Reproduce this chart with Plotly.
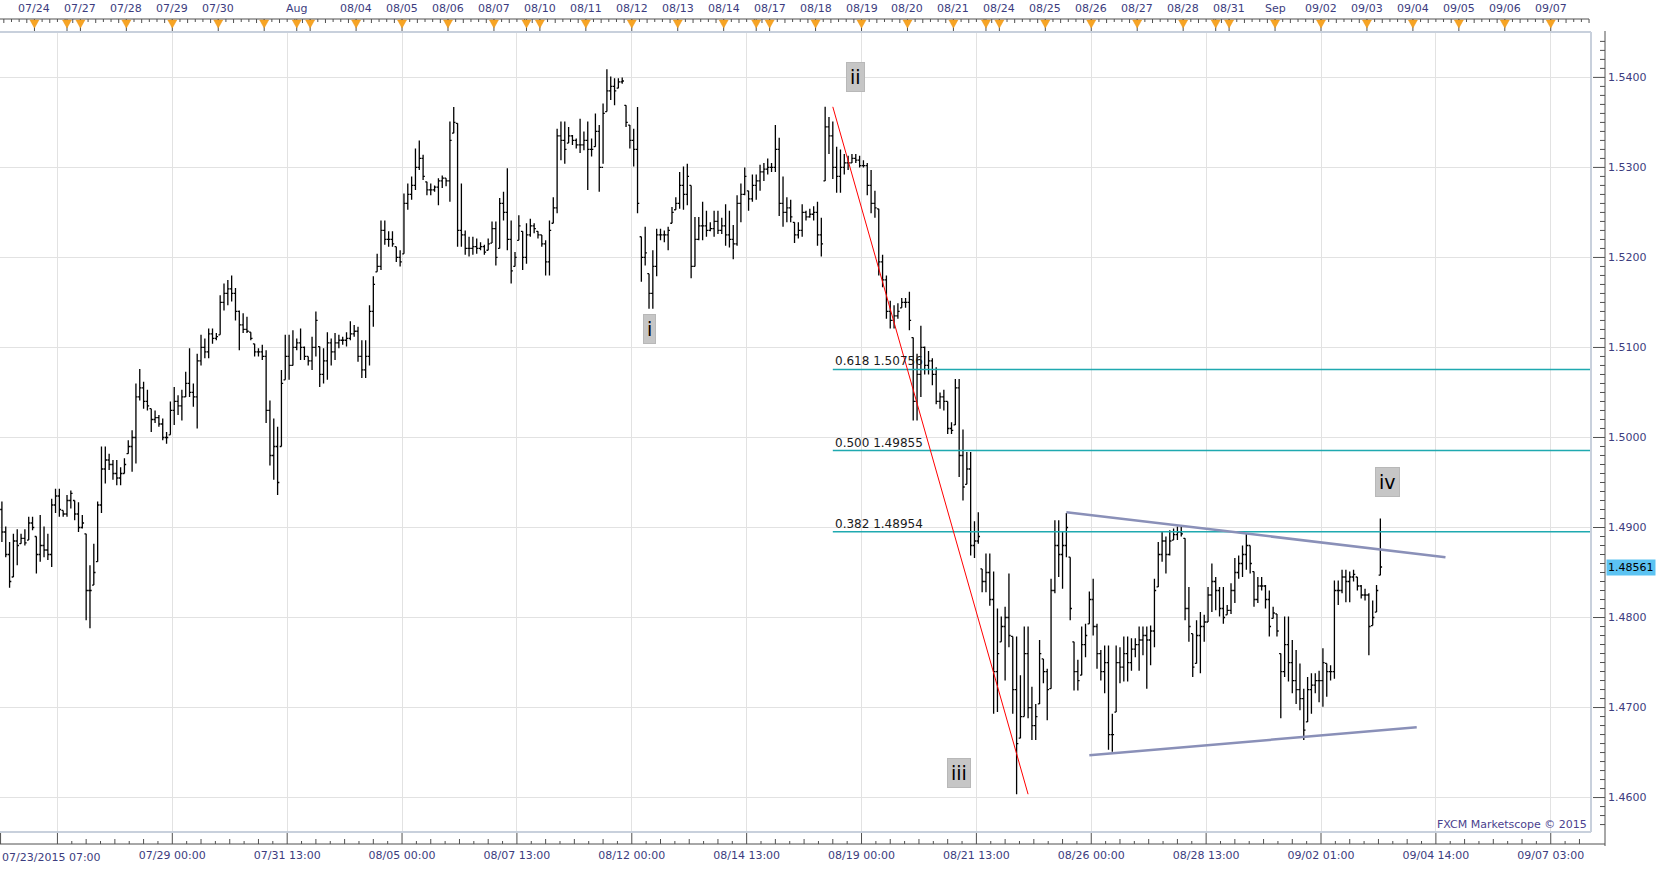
import plotly.graph_objects as go

# ------------------------------------------------------------------ data
# 2-hour OHLC bars; bar_hours = trading-hour index (0 = 07/23/2015 07:00)
bar_hours = list(range(0, 722, 2))

opens = [
    1.4920, 1.4895, 1.4870, 1.4845, 1.4885, 1.4882, 1.4888, 1.4886, 1.4905, 1.4890,
    1.4870, 1.4880, 1.4875, 1.4870, 1.4925, 1.4935, 1.4919, 1.4915, 1.4930, 1.4930,
    1.4915, 1.4900, 1.4893, 1.4830, 1.4836, 1.4862, 1.4925, 1.4965, 1.4975, 1.4970,
    1.4960, 1.4955, 1.4960, 1.4982, 1.4990, 1.5000, 1.5045, 1.5055, 1.5040, 1.5032,
    1.5020, 1.5022, 1.5015, 1.5000, 1.5003, 1.5030, 1.5040, 1.5035, 1.5045, 1.5060,
    1.5050, 1.5045, 1.5085, 1.5100, 1.5095, 1.5115, 1.5110, 1.5114, 1.5150, 1.5160,
    1.5165, 1.5160, 1.5140, 1.5125, 1.5120, 1.5117, 1.5104, 1.5095, 1.5095, 1.5090,
    1.5030, 1.4980, 1.4990, 1.4990, 1.5064, 1.5090, 1.5080, 1.5100, 1.5105, 1.5100,
    1.5090, 1.5085, 1.5100, 1.5101, 1.5070, 1.5085, 1.5105, 1.5095, 1.5105, 1.5108,
    1.5108, 1.5110, 1.5115, 1.5118, 1.5090, 1.5075, 1.5090, 1.5140, 1.5184, 1.5190,
    1.5230, 1.5220, 1.5220, 1.5212, 1.5200, 1.5204, 1.5260, 1.5270, 1.5280, 1.5300,
    1.5310, 1.5284, 1.5275, 1.5275, 1.5278, 1.5285, 1.5288, 1.5285, 1.5338, 1.5349,
    1.5230, 1.5225, 1.5210, 1.5210, 1.5212, 1.5210, 1.5212, 1.5208, 1.5216, 1.5232,
    1.5210, 1.5260, 1.5250, 1.5220, 1.5190, 1.5219, 1.5229, 1.5200, 1.5225, 1.5235,
    1.5229, 1.5225, 1.5215, 1.5195, 1.5238, 1.5255, 1.5335, 1.5330, 1.5327, 1.5335,
    1.5330, 1.5325, 1.5325, 1.5330, 1.5320, 1.5323, 1.5340, 1.5300, 1.5362, 1.5385,
    1.5390, 1.5388, 1.5395, 1.5369, 1.5347, 1.5330, 1.5320, 1.5223, 1.5200, 1.5182,
    1.5160, 1.5190, 1.5225, 1.5225, 1.5225, 1.5238, 1.5253, 1.5260, 1.5280, 1.5270,
    1.5280, 1.5190, 1.5220, 1.5235, 1.5235, 1.5230, 1.5232, 1.5240, 1.5230, 1.5235,
    1.5225, 1.5220, 1.5215, 1.5260, 1.5270, 1.5274, 1.5265, 1.5280, 1.5285, 1.5295,
    1.5298, 1.5300, 1.5300, 1.5320, 1.5260, 1.5250, 1.5255, 1.5239, 1.5225, 1.5230,
    1.5250, 1.5245, 1.5248, 1.5250, 1.5225, 1.5285, 1.5345, 1.5335, 1.5300, 1.5290,
    1.5300, 1.5305, 1.5305, 1.5310, 1.5308, 1.5302, 1.5302, 1.5280, 1.5260, 1.5254,
    1.5195, 1.5175, 1.5140, 1.5130, 1.5135, 1.5144, 1.5150, 1.5150, 1.5111, 1.5040,
    1.5070, 1.5100, 1.5080, 1.5085, 1.5070, 1.5040, 1.5045, 1.5040, 1.5010, 1.5014,
    1.5055, 1.4980, 1.4948, 1.4965, 1.4880, 1.4885, 1.4854, 1.4840, 1.4850, 1.4820,
    1.4740, 1.4773, 1.4790, 1.4800, 1.4779, 1.4720, 1.4666, 1.4690, 1.4760, 1.4700,
    1.4680, 1.4704, 1.4754, 1.4740, 1.4721, 1.4830, 1.4880, 1.4870, 1.4880, 1.4867,
    1.4773, 1.4740, 1.4736, 1.4770, 1.4793, 1.4820, 1.4790, 1.4760, 1.4740, 1.4750,
    1.4670, 1.4695, 1.4750, 1.4745, 1.4760, 1.4750, 1.4765, 1.4770, 1.4775, 1.4780,
    1.4775, 1.4785, 1.4834, 1.4870, 1.4885, 1.4870, 1.4886, 1.4892, 1.4895, 1.4888,
    1.4810, 1.4782, 1.4749, 1.4780, 1.4790, 1.4795, 1.4825, 1.4840, 1.4830, 1.4810,
    1.4803, 1.4808, 1.4830, 1.4850, 1.4860, 1.4870, 1.4880, 1.4851, 1.4820, 1.4835,
    1.4835, 1.4820, 1.4799, 1.4804, 1.4760, 1.4740, 1.4770, 1.4750, 1.4730, 1.4720,
    1.4710, 1.4684, 1.4720, 1.4725, 1.4730, 1.4730, 1.4749, 1.4740, 1.4740, 1.4830,
    1.4830, 1.4845, 1.4840, 1.4845, 1.4845, 1.4835, 1.4825, 1.4825, 1.4791, 1.4806,
    1.4847,
]

highs = [
    1.4929, 1.4901, 1.4884, 1.4893, 1.4898, 1.4893, 1.4898, 1.4912, 1.4912, 1.4890,
    1.4914, 1.4901, 1.4893, 1.4932, 1.4943, 1.4943, 1.4919, 1.4936, 1.4941, 1.4930,
    1.4928, 1.4914, 1.4893, 1.4858, 1.4882, 1.4929, 1.4990, 1.4990, 1.4982, 1.4975,
    1.4975, 1.4967, 1.4977, 1.4997, 1.5008, 1.5060, 1.5076, 1.5062, 1.5053, 1.5032,
    1.5030, 1.5025, 1.5021, 1.5006, 1.5040, 1.5056, 1.5047, 1.5053, 1.5073, 1.5099,
    1.5060, 1.5093, 1.5114, 1.5110, 1.5121, 1.5121, 1.5116, 1.5158, 1.5171, 1.5175,
    1.5180, 1.5166, 1.5141, 1.5138, 1.5134, 1.5117, 1.5104, 1.5099, 1.5103, 1.5097,
    1.5041, 1.5021, 1.5012, 1.5075, 1.5114, 1.5114, 1.5119, 1.5110, 1.5121, 1.5101,
    1.5090, 1.5112, 1.5140, 1.5101, 1.5099, 1.5117, 1.5110, 1.5116, 1.5114, 1.5112,
    1.5117, 1.5129, 1.5125, 1.5123, 1.5108, 1.5108, 1.5147, 1.5179, 1.5204, 1.5241,
    1.5241, 1.5229, 1.5229, 1.5212, 1.5208, 1.5271, 1.5282, 1.5290, 1.5321, 1.5330,
    1.5314, 1.5284, 1.5282, 1.5280, 1.5288, 1.5291, 1.5288, 1.5351, 1.5367, 1.5349,
    1.5282, 1.5230, 1.5223, 1.5223, 1.5221, 1.5217, 1.5214, 1.5221, 1.5240, 1.5240,
    1.5266, 1.5273, 1.5299, 1.5241, 1.5206, 1.5247, 1.5229, 1.5238, 1.5243, 1.5238,
    1.5229, 1.5225, 1.5219, 1.5241, 1.5267, 1.5343, 1.5351, 1.5351, 1.5345, 1.5336,
    1.5332, 1.5354, 1.5340, 1.5351, 1.5332, 1.5360, 1.5347, 1.5371, 1.5409, 1.5401,
    1.5399, 1.5399, 1.5400, 1.5369, 1.5347, 1.5343, 1.5367, 1.5223, 1.5234, 1.5182,
    1.5208, 1.5232, 1.5232, 1.5230, 1.5234, 1.5256, 1.5267, 1.5295, 1.5301, 1.5304,
    1.5280, 1.5245, 1.5245, 1.5262, 1.5252, 1.5239, 1.5252, 1.5252, 1.5244, 1.5259,
    1.5252, 1.5236, 1.5269, 1.5282, 1.5300, 1.5274, 1.5292, 1.5292, 1.5303, 1.5305,
    1.5310, 1.5305, 1.5347, 1.5333, 1.5290, 1.5267, 1.5264, 1.5239, 1.5239, 1.5259,
    1.5252, 1.5254, 1.5257, 1.5262, 1.5244, 1.53673, 1.5356, 1.5351, 1.5323, 1.5320,
    1.5315, 1.5313, 1.5315, 1.5315, 1.5313, 1.5308, 1.5305, 1.5297, 1.5274, 1.5254,
    1.5203, 1.5180, 1.5152, 1.5147, 1.5149, 1.5155, 1.5155, 1.5162, 1.5111, 1.5093,
    1.5124, 1.5101, 1.5096, 1.5088, 1.5078, 1.5050, 1.5053, 1.5040, 1.5017, 1.5065,
    1.5065, 1.5009, 1.4984, 1.4984, 1.4907, 1.4917, 1.4854, 1.4871, 1.4871, 1.4851,
    1.4810, 1.4801, 1.4812, 1.4849, 1.4779, 1.4779, 1.4736, 1.4790, 1.4790, 1.4723,
    1.4704, 1.4775, 1.4754, 1.4743, 1.4843, 1.4908, 1.4908, 1.4895, 1.4916, 1.4867,
    1.4773, 1.4753, 1.4790, 1.4793, 1.4829, 1.4843, 1.4793, 1.4764, 1.4769, 1.4769,
    1.4693, 1.4769, 1.4767, 1.4779, 1.4779, 1.4777, 1.4777, 1.4790, 1.4790, 1.4790,
    1.4791, 1.4843, 1.4884, 1.4895, 1.4890, 1.4897, 1.4899, 1.4901, 1.4901, 1.4888,
    1.4834, 1.4782, 1.4797, 1.4806, 1.4803, 1.4834, 1.4860, 1.4845, 1.4834, 1.4834,
    1.4814, 1.4838, 1.4866, 1.4869, 1.4880, 1.4893, 1.4880, 1.4851, 1.4845, 1.4845,
    1.4836, 1.4830, 1.4812, 1.4804, 1.4760, 1.4801, 1.4801, 1.4775, 1.4764, 1.4749,
    1.4721, 1.4734, 1.4738, 1.4738, 1.4741, 1.4766, 1.4749, 1.4747, 1.4841, 1.4841,
    1.4853, 1.4853, 1.4851, 1.4853, 1.4845, 1.4836, 1.4832, 1.4827, 1.4819, 1.4836,
    1.4910,
]

lows = [
    1.4884, 1.4867, 1.4833, 1.4845, 1.4858, 1.4882, 1.4880, 1.4886, 1.4897, 1.4849,
    1.4862, 1.4867, 1.4864, 1.4856, 1.4916, 1.4912, 1.4912, 1.4912, 1.4921, 1.4908,
    1.4895, 1.4899, 1.4797, 1.4788, 1.4836, 1.4862, 1.4916, 1.4949, 1.4964, 1.4953,
    1.4947, 1.4947, 1.4960, 1.4982, 1.4962, 1.4971, 1.5041, 1.5032, 1.5030, 1.5006,
    1.5016, 1.5012, 1.4997, 1.4993, 1.5003, 1.5014, 1.5025, 1.5019, 1.5045, 1.5045,
    1.5034, 1.5010, 1.5080, 1.5088, 1.5088, 1.5104, 1.5108, 1.5114, 1.5141, 1.5147,
    1.5151, 1.5130, 1.5097, 1.5116, 1.5116, 1.5108, 1.5090, 1.5090, 1.5086, 1.5016,
    1.4969, 1.4953, 1.4936, 1.4990, 1.5064, 1.5064, 1.5080, 1.5097, 1.5086, 1.5086,
    1.5080, 1.5075, 1.5090, 1.5056, 1.5060, 1.5064, 1.5080, 1.5086, 1.5099, 1.5103,
    1.5101, 1.5108, 1.5112, 1.5084, 1.5066, 1.5066, 1.5080, 1.5123, 1.5184, 1.5186,
    1.5214, 1.5212, 1.5212, 1.5195, 1.5190, 1.5204, 1.5253, 1.5264, 1.5275, 1.5297,
    1.5286, 1.5269, 1.5269, 1.5273, 1.5258, 1.5277, 1.5279, 1.5262, 1.5338, 1.5212,
    1.5212, 1.5203, 1.5201, 1.5203, 1.5204, 1.5208, 1.5203, 1.5208, 1.5216, 1.5191,
    1.5210, 1.5241, 1.5208, 1.5171, 1.5190, 1.5219, 1.5186, 1.5193, 1.5223, 1.5227,
    1.5221, 1.5212, 1.5180, 1.5180, 1.5238, 1.5249, 1.5308, 1.5304, 1.5327, 1.5325,
    1.5321, 1.5316, 1.5319, 1.5275, 1.5312, 1.5323, 1.5273, 1.5304, 1.5362, 1.5375,
    1.5369, 1.5388, 1.5393, 1.5345, 1.5321, 1.5301, 1.5249, 1.5173, 1.5191, 1.5143,
    1.5143, 1.5179, 1.5219, 1.5217, 1.5208, 1.5238, 1.5253, 1.5254, 1.5253, 1.5258,
    1.5177, 1.5190, 1.5219, 1.5219, 1.5223, 1.5229, 1.5223, 1.5226, 1.5226, 1.5213,
    1.5211, 1.5198, 1.5213, 1.5239, 1.5269, 1.5252, 1.5262, 1.5264, 1.5274, 1.5285,
    1.5292, 1.5295, 1.5295, 1.5246, 1.5234, 1.5239, 1.5239, 1.5216, 1.5221, 1.5223,
    1.5241, 1.5244, 1.5241, 1.5213, 1.5201, 1.5285, 1.5315, 1.5287, 1.5272, 1.5272,
    1.5292, 1.5297, 1.5305, 1.5305, 1.5300, 1.5300, 1.5269, 1.5249, 1.5244, 1.5180,
    1.5167, 1.5132, 1.5121, 1.5121, 1.5132, 1.5144, 1.5144, 1.5119, 1.5019, 1.5019,
    1.5045, 1.5070, 1.5070, 1.5058, 1.5037, 1.5032, 1.5030, 1.5004, 1.5004, 1.5014,
    1.4956, 1.4930, 1.4948, 1.4869, 1.4866, 1.4882, 1.4828, 1.4828, 1.4813, 1.4693,
    1.4695, 1.4773, 1.4730, 1.4767, 1.4693, 1.46037, 1.4666, 1.4690, 1.4688, 1.4664,
    1.4664, 1.4704, 1.4727, 1.4686, 1.4721, 1.4827, 1.4845, 1.4832, 1.4867, 1.4797,
    1.4719, 1.4719, 1.4736, 1.4756, 1.4793, 1.4780, 1.4743, 1.4730, 1.4716, 1.4653,
    1.4651, 1.4695, 1.4727, 1.4729, 1.4729, 1.4741, 1.4756, 1.4741, 1.4758, 1.4721,
    1.4747, 1.4767, 1.4834, 1.4862, 1.4849, 1.4869, 1.4886, 1.4886, 1.4890, 1.4797,
    1.4773, 1.4734, 1.4749, 1.4738, 1.4773, 1.4795, 1.4806, 1.4808, 1.4801, 1.4793,
    1.4803, 1.4804, 1.4816, 1.4843, 1.4845, 1.4853, 1.4849, 1.4812, 1.4816, 1.4830,
    1.4810, 1.4779, 1.4799, 1.4779, 1.4688, 1.4734, 1.4729, 1.4716, 1.4704, 1.4697,
    1.4664, 1.4684, 1.4693, 1.4716, 1.4706, 1.4701, 1.4712, 1.4730, 1.4732, 1.4814,
    1.4827, 1.4817, 1.4817, 1.4840, 1.4830, 1.4821, 1.4819, 1.4758, 1.4791, 1.4806,
    1.4847,
]

closes = [
    1.4895, 1.4870, 1.4840, 1.4885, 1.4880, 1.4888, 1.4883, 1.4905, 1.4900, 1.4870,
    1.4880, 1.4875, 1.4870, 1.4925, 1.4935, 1.4920, 1.4915, 1.4930, 1.4938, 1.4915,
    1.4900, 1.4905, 1.4830, 1.4830, 1.4850, 1.4925, 1.4965, 1.4975, 1.4970, 1.4960,
    1.4955, 1.4960, 1.4970, 1.4990, 1.5000, 1.5045, 1.5055, 1.5040, 1.5035, 1.5020,
    1.5022, 1.5015, 1.5000, 1.5000, 1.5030, 1.5040, 1.5035, 1.5045, 1.5060, 1.5050,
    1.5045, 1.5085, 1.5100, 1.5095, 1.5115, 1.5110, 1.5112, 1.5150, 1.5160, 1.5165,
    1.5160, 1.5140, 1.5125, 1.5120, 1.5118, 1.5110, 1.5095, 1.5095, 1.5090, 1.5030,
    1.4980, 1.4990, 1.4950, 1.5060, 1.5090, 1.5080, 1.5100, 1.5105, 1.5100, 1.5090,
    1.5085, 1.5100, 1.5130, 1.5070, 1.5085, 1.5105, 1.5095, 1.5105, 1.5108, 1.5108,
    1.5110, 1.5115, 1.5118, 1.5090, 1.5075, 1.5090, 1.5140, 1.5170, 1.5190, 1.5230,
    1.5220, 1.5220, 1.5215, 1.5200, 1.5195, 1.5260, 1.5270, 1.5280, 1.5300, 1.5310,
    1.5290, 1.5275, 1.5275, 1.5278, 1.5285, 1.5288, 1.5285, 1.5330, 1.5350, 1.5230,
    1.5225, 1.5210, 1.5210, 1.5212, 1.5210, 1.5212, 1.5206, 1.5215, 1.5232, 1.5200,
    1.5260, 1.5250, 1.5220, 1.5185, 1.5200, 1.5235, 1.5200, 1.5225, 1.5235, 1.5232,
    1.5225, 1.5215, 1.5195, 1.5230, 1.5255, 1.5335, 1.5330, 1.5320, 1.5335, 1.5330,
    1.5325, 1.5325, 1.5330, 1.5320, 1.5320, 1.5340, 1.5300, 1.5360, 1.5385, 1.5390,
    1.5385, 1.5395, 1.5396, 1.5350, 1.5330, 1.5320, 1.5260, 1.5200, 1.5205, 1.5160,
    1.5190, 1.5225, 1.5225, 1.5225, 1.5230, 1.5250, 1.5260, 1.5280, 1.5270, 1.5290,
    1.5190, 1.5220, 1.5235, 1.5235, 1.5230, 1.5232, 1.5240, 1.5230, 1.5235, 1.5225,
    1.5220, 1.5215, 1.5260, 1.5270, 1.5290, 1.5265, 1.5280, 1.5285, 1.5295, 1.5298,
    1.5300, 1.5300, 1.5320, 1.5260, 1.5250, 1.5255, 1.5245, 1.5225, 1.5230, 1.5250,
    1.5245, 1.5248, 1.5250, 1.5225, 1.5215, 1.5345, 1.5335, 1.5300, 1.5290, 1.5300,
    1.5305, 1.5305, 1.5310, 1.5308, 1.5302, 1.5302, 1.5280, 1.5260, 1.5255, 1.5195,
    1.5175, 1.5140, 1.5130, 1.5135, 1.5140, 1.5150, 1.5150, 1.5130, 1.5040, 1.5070,
    1.5100, 1.5080, 1.5085, 1.5070, 1.5040, 1.5045, 1.5040, 1.5010, 1.5008, 1.5055,
    1.4980, 1.4945, 1.4965, 1.4880, 1.4885, 1.4890, 1.4840, 1.4850, 1.4820, 1.4740,
    1.4760, 1.4790, 1.4800, 1.4780, 1.4720, 1.4660, 1.4690, 1.4760, 1.4700, 1.4680,
    1.4690, 1.4760, 1.4740, 1.4720, 1.4830, 1.4880, 1.4870, 1.4880, 1.4900, 1.4810,
    1.4740, 1.4730, 1.4770, 1.4780, 1.4820, 1.4790, 1.4760, 1.4740, 1.4750, 1.4670,
    1.4670, 1.4750, 1.4745, 1.4760, 1.4750, 1.4765, 1.4770, 1.4775, 1.4780, 1.4775,
    1.4785, 1.4830, 1.4870, 1.4885, 1.4870, 1.4885, 1.4892, 1.4895, 1.4893, 1.4810,
    1.4790, 1.4745, 1.4780, 1.4790, 1.4795, 1.4825, 1.4840, 1.4830, 1.4810, 1.4800,
    1.4808, 1.4830, 1.4850, 1.4860, 1.4870, 1.4880, 1.4860, 1.4820, 1.4835, 1.4835,
    1.4820, 1.4790, 1.4805, 1.4785, 1.4740, 1.4770, 1.4750, 1.4730, 1.4720, 1.4710,
    1.4675, 1.4720, 1.4725, 1.4730, 1.4730, 1.4750, 1.4740, 1.4740, 1.4830, 1.4830,
    1.4845, 1.4840, 1.4845, 1.4848, 1.4835, 1.4825, 1.4825, 1.4790, 1.4800, 1.4830,
    1.48561,
]

price_ticks = [1.46, 1.47, 1.48, 1.49, 1.50, 1.51, 1.52, 1.53, 1.54]

bottom_tick_hours = [29, 89, 149, 209, 269, 329, 389, 449, 509, 569, 629, 689, 749, 809]
bottom_tick_labels = ["", "07/29 00:00", "07/31 13:00", "08/05 00:00", "08/07 13:00",
                      "08/12 00:00", "08/14 13:00", "08/19 00:00", "08/21 13:00",
                      "08/26 00:00", "08/28 13:00", "09/02 01:00", "09/04 14:00",
                      "09/07 03:00"]
first_bar_label = "07/23/2015 07:00"

day_hours = [17, 34, 41, 65, 89, 113, 137, 154, 161, 185,
             209, 233, 257, 274, 281, 305, 329, 353, 377, 394,
             401, 425, 449, 473, 497, 514, 521, 545, 569, 593,
             617, 634, 641, 665, 689, 713, 737, 761, 785, 809]
day_labels = ["07/24", "", "07/27", "07/28", "07/29", "07/30", "", "Aug", "", "08/04",
              "08/05", "08/06", "08/07", "", "08/10", "08/11", "08/12", "08/13", "08/14", "",
              "08/17", "08/18", "08/19", "08/20", "08/21", "", "08/24", "08/25", "08/26", "08/27",
              "08/28", "", "08/31", "Sep", "09/02", "09/03", "09/04", "09/05", "09/06", "09/07"]

fib_ratios = [0.618, 0.500, 0.382]
fib_anchor_hours = [434, 536]          # Fibonacci tool drawn from wave ii high to wave iii low
wave_ii_bar, wave_iii_bar = 215, 265

tri_upper_hours, tri_upper_prices = [556, 754], [1.4917, 1.4867]
tri_lower_hours, tri_lower_prices = [568, 739], [1.4647, 1.4678]

wave_names = ["i", "ii", "iii", "iv"]

assert len(opens) == len(highs) == len(lows) == len(closes) == len(bar_hours)

# ------------------------------------------------------------------ geometry
W, H = 1663, 870
PL, PR, PT, PB = 0, 1591, 33, 832
PXH = 1.9145                           # px per trading hour
XMIN = -1.0
XMAX = XMIN + (PR - PL) / PXH
PXP = 9002.0                           # px per price unit
YMAX = 1.54 + (77.4 - PT) / PXP
YMIN = 1.54 - (PB - 77.4) / PXP

FONT = "DejaVu Sans"
AXIS_TXT = "#3c3c7e"
RULER = "#505050"


def xp(px):
    return (px - PL) / (PR - PL)


def yp(py):
    return (PB - py) / (PB - PT)


def hp(h):
    return (h - XMIN) / (XMAX - XMIN)


fig = go.Figure(go.Ohlc(
    x=bar_hours, open=opens, high=highs, low=lows, close=closes,
    increasing=dict(line=dict(color="#000000", width=1.3)),
    decreasing=dict(line=dict(color="#000000", width=1.3)),
    tickwidth=0.45, hoverinfo="skip", showlegend=False,
))

shapes = []
annotations = []

# --- Fibonacci retracement
ii_high = highs[wave_ii_bar]
iii_low = lows[wave_iii_bar]
for r in fib_ratios:
    lvl = iii_low + r * (ii_high - iii_low)
    shapes.append(dict(type="line", xref="x", yref="y", x0=fib_anchor_hours[0], x1=XMAX,
                       y0=lvl, y1=lvl, line=dict(color="#1fa9b0", width=1.5), layer="above"))
    annotations.append(dict(xref="x", yref="y", x=fib_anchor_hours[0], y=lvl,
                            text=f"{r:.3f} {lvl:.5f}", showarrow=False, xanchor="left",
                            yanchor="bottom", xshift=0, yshift=-1,
                            font=dict(family=FONT, size=12, color="#1a1a1a")))
shapes.append(dict(type="line", xref="x", yref="y", x0=fib_anchor_hours[0], y0=ii_high,
                   x1=fib_anchor_hours[1], y1=iii_low, line=dict(color="#ff0000", width=1),
                   layer="above"))

# --- triangle trend lines
shapes.append(dict(type="line", xref="x", yref="y", x0=tri_upper_hours[0], y0=tri_upper_prices[0],
                   x1=tri_upper_hours[1], y1=tri_upper_prices[1],
                   line=dict(color="#8a90b8", width=2.5), layer="above"))
shapes.append(dict(type="line", xref="x", yref="y", x0=tri_lower_hours[0], y0=tri_lower_prices[0],
                   x1=tri_lower_hours[1], y1=tri_lower_prices[1],
                   line=dict(color="#8a90b8", width=2.5), layer="above"))

# --- wave labels
wave_pos = [(338, 1.5120), (446, 1.5400), (500, 1.4627), (723.5, 1.4950)]
for name, (wx, wy) in zip(wave_names, wave_pos):
    annotations.append(dict(xref="x", yref="y", x=wx, y=wy, text=name, showarrow=False,
                            xanchor="center", yanchor="middle",
                            bgcolor="#c6c6c6", bordercolor="#b8b8b8", borderwidth=1, borderpad=3,
                            font=dict(family=FONT, size=19, color="#000000")))

# --- plot frame bands
BAND = "#c8d0dc"
shapes.append(dict(type="line", xref="paper", yref="paper", x0=xp(PR), x1=xp(PR),
                   y0=yp(PT - 1), y1=yp(PB), line=dict(color=BAND, width=2)))
shapes.append(dict(type="line", xref="paper", yref="paper", x0=0, x1=xp(PR),
                   y0=yp(PT - 1), y1=yp(PT - 1), line=dict(color=BAND, width=2)))
shapes.append(dict(type="line", xref="paper", yref="paper", x0=0, x1=xp(PR),
                   y0=yp(PB), y1=yp(PB), line=dict(color=BAND, width=2)))

# --- right price ruler
AX = 1605
shapes.append(dict(type="line", xref="paper", yref="paper", x0=xp(AX), x1=xp(AX),
                   y0=yp(PT - 2), y1=yp(846), line=dict(color=RULER, width=1)))
for p in price_ticks:
    shapes.append(dict(type="line", xref="paper", yref="y", x0=xp(1593), x1=xp(AX),
                       y0=p, y1=p, line=dict(color=RULER, width=1)))
for k in range(1456, 1545):
    p = k / 1000.0
    if k % 10 == 0 or p < YMIN or p > YMAX:
        continue
    shapes.append(dict(type="line", xref="paper", yref="y", x0=xp(1600), x1=xp(AX),
                       y0=p, y1=p, line=dict(color=RULER, width=1)))

# --- bottom time ruler
BY = 844
shapes.append(dict(type="line", xref="paper", yref="paper", x0=0, x1=xp(AX),
                   y0=yp(BY), y1=yp(BY), line=dict(color=RULER, width=1)))
for h in bottom_tick_hours:
    shapes.append(dict(type="line", xref="paper", yref="paper", x0=hp(h), x1=hp(h),
                       y0=yp(PB + 1), y1=yp(BY), line=dict(color=RULER, width=1)))
    for k in range(1, 8):
        hh = h + 7.5 * k
        if hh > XMAX:
            break
        ln = 5 if k % 2 == 0 else 3
        shapes.append(dict(type="line", xref="paper", yref="paper", x0=hp(hh), x1=hp(hh),
                           y0=yp(BY - ln), y1=yp(BY), line=dict(color=RULER, width=1)))
shapes.append(dict(type="line", xref="paper", yref="paper", x0=hp(XMIN + 0.3), x1=hp(XMIN + 0.3),
                   y0=yp(PB + 1), y1=yp(BY), line=dict(color=RULER, width=1)))
annotations.append(dict(xref="paper", yref="paper", x=xp(0), y=yp(857), text=first_bar_label,
                        showarrow=False, xanchor="left", yanchor="middle",
                        font=dict(family=FONT, size=11, color=AXIS_TXT)))

# --- top date ruler
TY = 19
shapes.append(dict(type="line", xref="paper", yref="paper", x0=0, x1=xp(1589),
                   y0=yp(TY), y1=yp(TY), line=dict(color=RULER, width=1)))
h = 1
while h < XMAX:
    ln = 4 if (h - 1) % 12 == 0 else 3
    shapes.append(dict(type="line", xref="paper", yref="paper", x0=hp(h), x1=hp(h),
                       y0=yp(TY), y1=yp(TY + ln), line=dict(color=RULER, width=1)))
    h += 4
for dh, lab in zip(day_hours, day_labels):
    cx = hp(dh)
    shapes.append(dict(type="line", xref="paper", yref="paper", x0=cx, x1=cx,
                       y0=yp(TY), y1=yp(31), line=dict(color=RULER, width=1)))
    hw = 4.5 / (PR - PL)
    shapes.append(dict(type="path", xref="paper", yref="paper",
                       path=f"M {cx - hw},{yp(TY + 1)} L {cx + hw},{yp(TY + 1)} L {cx},{yp(TY + 9)} Z",
                       fillcolor="#f7a423", line=dict(color="#e8941a", width=0.5)))
    if lab:
        annotations.append(dict(xref="paper", yref="paper", x=cx, y=yp(9), text=lab,
                                showarrow=False, xanchor="center", yanchor="middle",
                                font=dict(family=FONT, size=11, color=AXIS_TXT)))

# --- last price marker
annotations.append(dict(xref="paper", yref="y", x=xp(1606), y=closes[-1],
                        text=f"{closes[-1]:.5f}", showarrow=False, xanchor="left",
                        yanchor="middle", bgcolor="#5cc3f2", borderpad=1,
                        font=dict(family=FONT, size=11, color="#000000")))

# --- watermark
annotations.append(dict(xref="paper", yref="paper", x=xp(1589), y=yp(824),
                        text="FXCM Marketscope \u00a9 2015", showarrow=False,
                        xanchor="right", yanchor="middle",
                        font=dict(family=FONT, size=11, color="#4b3f8e")))

fig.update_layout(
    width=W, height=H,
    margin=dict(l=PL, r=W - PR, t=PT, b=H - PB, pad=0),
    paper_bgcolor="#ffffff", plot_bgcolor="#ffffff",
    showlegend=False, hovermode=False,
    shapes=shapes, annotations=annotations,
    xaxis=dict(range=[XMIN, XMAX], tickmode="array", tickvals=bottom_tick_hours,
               ticktext=bottom_tick_labels, showgrid=True, gridcolor="#e2e2e2", gridwidth=1,
               zeroline=False, showline=False, ticks="", ticklabelstandoff=15,
               tickfont=dict(family=FONT, size=11, color=AXIS_TXT), automargin=False,
               rangeslider=dict(visible=False), fixedrange=True),
    yaxis=dict(range=[YMIN, YMAX], side="right", tickmode="array", tickvals=price_ticks,
               tickformat=".4f", showgrid=True, gridcolor="#e2e2e2", gridwidth=1,
               zeroline=False, showline=False, ticks="", ticklabelstandoff=16,
               tickfont=dict(family=FONT, size=11, color=AXIS_TXT), automargin=False,
               fixedrange=True),
)

fig.write_html(
    "out.html",
    config={"displayModeBar": False, "staticPlot": True},
    post_script="document.body.style.margin='0px';document.body.style.overflow='hidden';",
)
